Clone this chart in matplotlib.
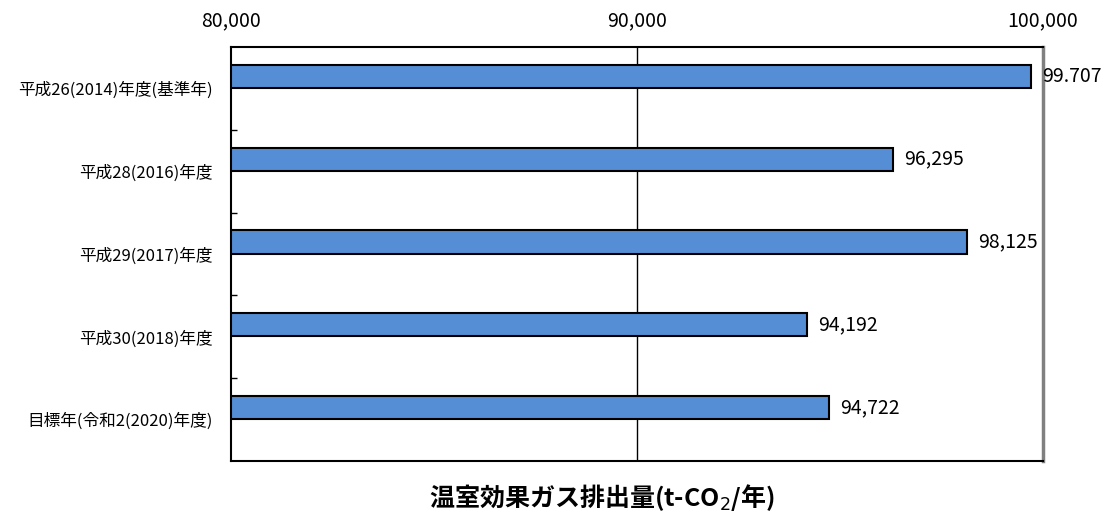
import matplotlib
matplotlib.use('Agg')
from matplotlib import pyplot as plt
import numpy as np

plt.rcParams['font.family'] = ['Noto Sans CJK JP', 'DejaVu Sans']

# データ
categories = ['平成26(2014)年度(基準年)', '平成28(2016)年度', '平成29(2017)年度',
              '平成30(2018)年度', '目標年(令和2(2020)年度)']
values = [99707, 96295, 98125, 94192, 94722]
value_labels = ['99.707', '96,295', '98,125', '94,192', '94,722']
x_ticks = [80000, 90000, 100000]
x_tick_labels = ['80,000', '90,000', '100,000']

fig = plt.figure(figsize=(11.04, 5.13), dpi=100)
ax = fig.add_axes([0.2092, 0.1014, 0.7355, 0.807])

y = np.arange(len(categories))
# Excelの棒は区分の中心より少し上にずれている
y_bar = y - 0.145
ax.barh(y_bar, np.array(values) - 80000, left=80000, height=0.28,
        color='#558ED5', edgecolor='black', linewidth=1.5, zorder=3)

for yi, v, lab in zip(y_bar, values, value_labels):
    ax.text(v + 280, yi, lab, va='center', ha='left', fontsize=14, zorder=4)

ax.set_xlim(80000, 100000)
ax.set_ylim(len(categories) - 0.5, -0.5)
ax.set_xticks(x_ticks)
ax.set_xticklabels(x_tick_labels, fontsize=14)
ax.xaxis.tick_top()
ax.tick_params(axis='x', length=0, pad=11)

ax.set_yticks(y)
ax.set_yticklabels(categories, fontsize=12)
ax.tick_params(axis='y', which='major', length=0, pad=13)
ax.set_yticks(np.arange(0.5, len(categories) - 0.5, 1), minor=True)
ax.tick_params(axis='y', which='minor', direction='in', length=4, width=1, color='black')

ax.axvline(90000, color='black', linewidth=1, zorder=2)

for s in ['top', 'left', 'bottom']:
    ax.spines[s].set_color('black')
    ax.spines[s].set_linewidth(1.5)
ax.spines['right'].set_color('#808080')
ax.spines['right'].set_linewidth(2.5)

fig.text(0.545, 0.03, '温室効果ガス排出量(t-CO$_2$/年)', ha='center', va='center',
         fontsize=18, fontweight='bold')

fig.savefig('out.png', dpi=100)
